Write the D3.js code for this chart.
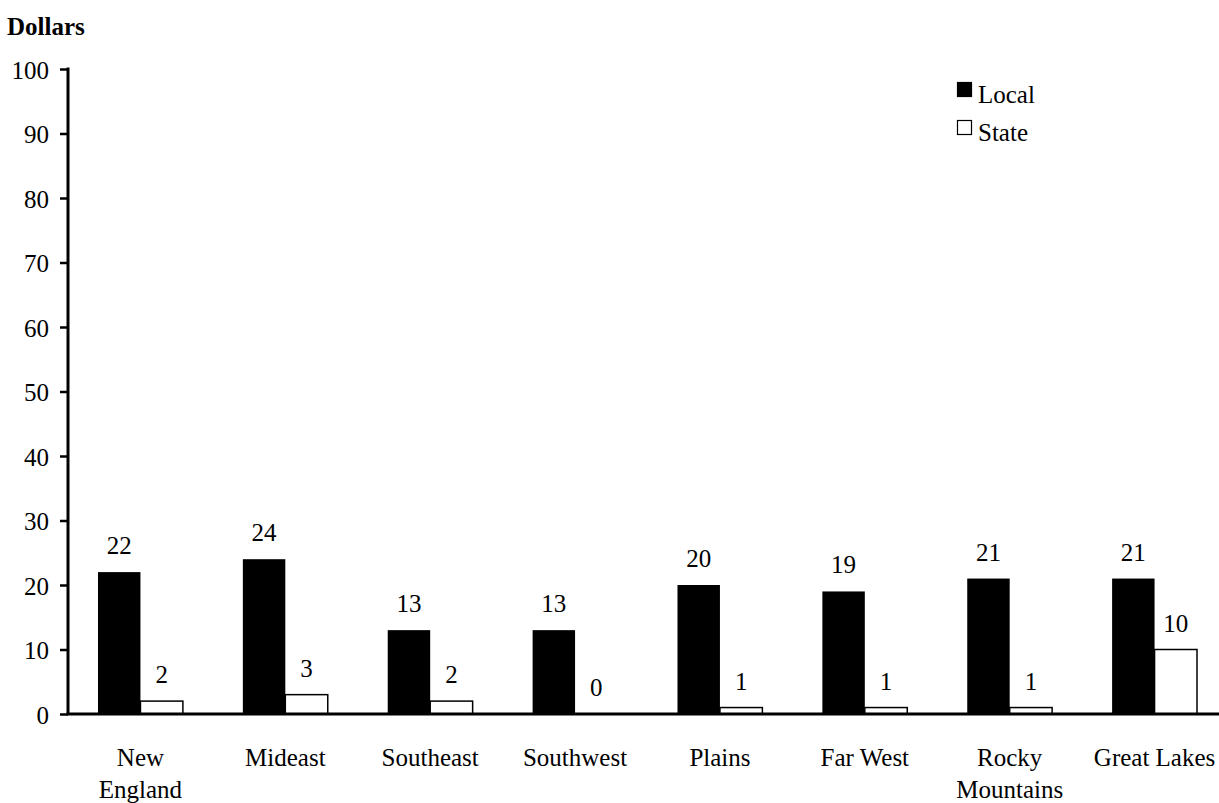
<!DOCTYPE html>
<html>
<head>
<meta charset="utf-8">
<script src="https://cdn.jsdelivr.net/npm/d3@7"></script>
<style>
  html, body { margin: 0; padding: 0; background: #fff; }
  #chart text { font-family: "Liberation Serif", Tinos, "Times New Roman" !important; }
</style>
</head>
<body>
<svg id="chart" width="1219" height="803" font-family="Liberation Serif"></svg>
<script>
// Regional spending per person, local vs. state
const regions = ["New England", "Mideast", "Southeast", "Southwest", "Plains", "Far West", "Rocky Mountains", "Great Lakes"];
const regionLines = [["New", "England"], ["Mideast"], ["Southeast"], ["Southwest"], ["Plains"], ["Far West"], ["Rocky", "Mountains"], ["Great Lakes"]];
const localValues = [22, 24, 13, 13, 20, 19, 21, 21];
const stateValues = [2, 3, 2, 0, 1, 1, 1, 10];
const seriesNames = ["Local", "State"];
const yTicks = [0, 10, 20, 30, 40, 50, 60, 70, 80, 90, 100];

const fontSize = 25;

const svg = d3.select("#chart");

const x0 = d3.scaleBand().domain(regions).range([68, 1227]).paddingInner(0.414).paddingOuter(0.207);
const x1 = d3.scaleBand().domain(seriesNames).range([0, x0.bandwidth()]);
const y = d3.scaleLinear().domain([0, 100]).range([714, 69]);

const rows = regions.map((r, i) => ({ region: r, lines: regionLines[i], Local: localValues[i], State: stateValues[i] }));

// Y axis
const yAxis = svg.append("g")
  .attr("transform", "translate(68,0)")
  .call(d3.axisLeft(y).tickValues(yTicks).tickSize(8).tickPadding(11).tickSizeOuter(0));
yAxis.attr("font-family", "Liberation Serif").attr("font-size", fontSize);
yAxis.select(".domain").attr("stroke", "#000").attr("stroke-width", 3)
  .attr("d", `M0,${y(100) - 1.5}V${y(0)}`);
yAxis.selectAll(".tick line").attr("stroke", "#000").attr("stroke-width", 2.5);
yAxis.selectAll(".tick text")
  .attr("font-size", fontSize)
  .attr("fill", "#000").attr("dy", "0.36em");

// Bars
const groups = svg.append("g").selectAll("g").data(rows).join("g")
  .attr("transform", d => `translate(${x0(d.region)},0)`);

groups.selectAll("rect").data(d => seriesNames.map(k => ({ key: k, value: d[k] }))).join("rect")
  .attr("x", d => x1(d.key))
  .attr("y", d => y(d.value))
  .attr("width", x1.bandwidth())
  .attr("height", d => y(0) - y(d.value))
  .attr("fill", d => d.key === "Local" ? "#000" : "#fff")
  .attr("stroke", "#000")
  .attr("stroke-width", d => d.key === "Local" ? 0 : 1.5);

// Value labels
groups.selectAll("text.val").data(d => seriesNames.map(k => ({ key: k, value: d[k] }))).join("text")
  .attr("class", "val")
  .attr("x", d => x1(d.key) + x1.bandwidth() / 2)
  .attr("y", d => y(d.value) - 18)
  .attr("text-anchor", "middle")
  .attr("font-size", fontSize)
  .text(d => d.value);

// X axis baseline
svg.append("line")
  .attr("x1", 66.5).attr("x2", 1219)
  .attr("y1", y(0)).attr("y2", y(0))
  .attr("stroke", "#000").attr("stroke-width", 3);

// Category labels
const catLabels = svg.append("g").selectAll("text").data(rows).join("text")
  .attr("x", d => x0(d.region) + x0.bandwidth() / 2)
  .attr("y", 766)
  .attr("text-anchor", "middle")
  .attr("font-size", fontSize);
catLabels.selectAll("tspan").data(d => d.lines).join("tspan")
  .attr("x", function() { return d3.select(this.parentNode).attr("x"); })
  .attr("dy", (d, i) => i === 0 ? 0 : 32)
  .text(d => d);

// Axis title
svg.append("text").attr("x", 7).attr("y", 35)
  .attr("font-size", fontSize)
  .attr("font-weight", "bold").text("Dollars");

// Legend
const items = svg.append("g").selectAll("g").data(seriesNames).join("g")
  .attr("transform", (d, i) => `translate(957,${82 + i * 38})`);
items.append("rect")
  .attr("x", 0.5).attr("y", 0.5).attr("width", 14).attr("height", 14)
  .attr("fill", d => d === "Local" ? "#000" : "#fff")
  .attr("stroke", "#000").attr("stroke-width", 1.2);
items.append("text").attr("x", 21).attr("y", 21)
  .attr("font-size", fontSize)
  .text(d => d);
</script>
</body>
</html>
